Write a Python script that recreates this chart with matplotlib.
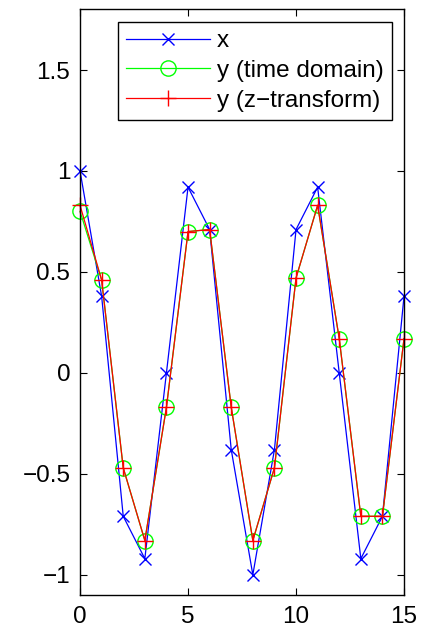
import matplotlib
matplotlib.use("Agg")
import matplotlib.pyplot as plt

plt.rcParams["font.family"] = ["Liberation Sans", "DejaVu Sans"]

# --- data ---
n = list(range(16))
x = [1.0, 0.38, -0.71, -0.92, 0.0, 0.92, 0.71, -0.38,
     -1.0, -0.38, 0.71, 0.92, 0.0, -0.92, -0.71, 0.38]
y_time = [0.80, 0.46, -0.47, -0.83, -0.17, 0.70, 0.71, -0.17,
          -0.83, -0.47, 0.47, 0.83, 0.17, -0.71, -0.71, 0.17]
y_z = [0.83, 0.46, -0.47, -0.83, -0.17, 0.70, 0.71, -0.17,
       -0.83, -0.47, 0.47, 0.83, 0.17, -0.71, -0.71, 0.17]
xticks = [0, 5, 10, 15]
yticks = [-1, -0.5, 0, 0.5, 1, 1.5]
ytick_labels = ["\u22121", "\u22120.5", "0", "0.5", "1", "1.5"]

fig = plt.figure(figsize=(4.28, 6.29), dpi=100)
ax = fig.add_axes([0.187, 0.054, 0.757, 0.931])

ax.plot(n, x, color=(0, 0, 1), marker="x", markersize=8, linewidth=0.9,
        label="x", clip_on=False)
ax.plot(n, y_time, color=(0, 1, 0), marker="o", markersize=11,
        markerfacecolor="none", linewidth=0.9, label="y (time domain)",
        clip_on=False)
ax.plot(n, y_z, color=(1, 0, 0), marker="+", markersize=11, linewidth=0.9,
        label="y (z\u2212transform)", clip_on=False)

ax.set_xlim(0, 15)
ax.set_ylim(-1.1, 1.8)
ax.set_xticks(xticks)
ax.set_yticks(yticks)
ax.set_yticklabels(ytick_labels)
ax.tick_params(direction="in", top=True, right=True, length=5, width=0.8,
               labelsize=17.5, pad=7)
ax.tick_params(axis="x", pad=8)
for s in ax.spines.values():
    s.set_linewidth(1.0)

leg = ax.legend(loc="upper right", bbox_to_anchor=(0.963, 0.979),
                borderaxespad=0, fancybox=False, edgecolor="black",
                fontsize=17.5, handlelength=3.45, handletextpad=0.3,
                labelspacing=0.32, borderpad=0.34, framealpha=1)
leg.get_frame().set_linewidth(1.0)

fig.savefig("out.png", dpi=100)
